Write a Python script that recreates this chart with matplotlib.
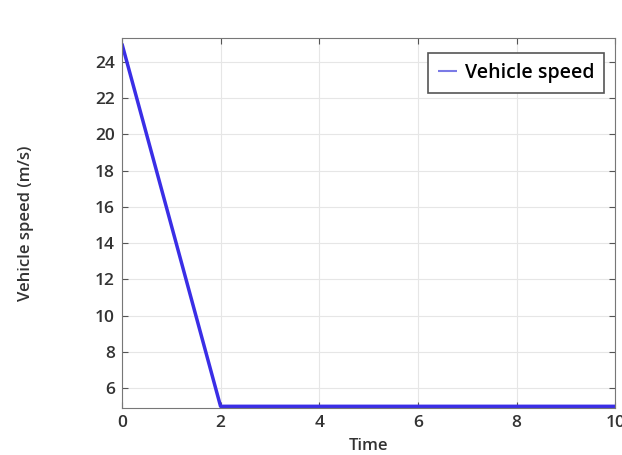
import matplotlib
matplotlib.use("Agg")
import matplotlib.pyplot as plt

# vehicle speed profile
time = [0, 2, 10]
speed = [25, 5, 5]
xticks = [0, 2, 4, 6, 8, 10]
yticks = [6, 8, 10, 12, 14, 16, 18, 20, 22, 24]

plt.rcParams['font.family'] = ['Open Sans', 'DejaVu Sans']
plt.rcParams['font.weight'] = 'semibold'

fig = plt.figure(figsize=(6.22, 4.55), dpi=100)
ax = fig.add_axes([0.196, 0.103, 0.793, 0.813])

ax.plot(time, speed, color='#3a2ee6', lw=2.5, label='Vehicle speed', solid_capstyle='butt')

ax.set_xlim(0, 10)
ax.set_ylim(4.9, 25.3)
ax.set_xticks(xticks)
ax.set_yticks(yticks)
ax.grid(True, color='#e6e6e6', lw=0.8)
ax.tick_params(direction='in', top=True, right=True, labelsize=12.5,
               labelcolor='#333333', color='#555555', length=4, pad=5)
for s in ax.spines.values():
    s.set_color('#777777')

ax.set_xlabel('Time', fontsize=12, color='#333333', labelpad=5, fontweight='semibold')
ax.set_ylabel('Vehicle speed (m/s)', fontsize=12, color='#333333', labelpad=44,
              fontweight='semibold')

leg = ax.legend(loc='upper right', fontsize=14, fancybox=False, handlelength=1.0,
                handletextpad=0.4, borderpad=0.5, framealpha=1,
                bbox_to_anchor=(0.998, 0.985))
leg.get_frame().set_edgecolor('#555555')
leg.get_frame().set_linewidth(1.2)
leg.get_lines()[0].set_linewidth(1.5)
leg.get_lines()[0].set_color('#7a7ae6')

fig.savefig('out.png', dpi=100)
